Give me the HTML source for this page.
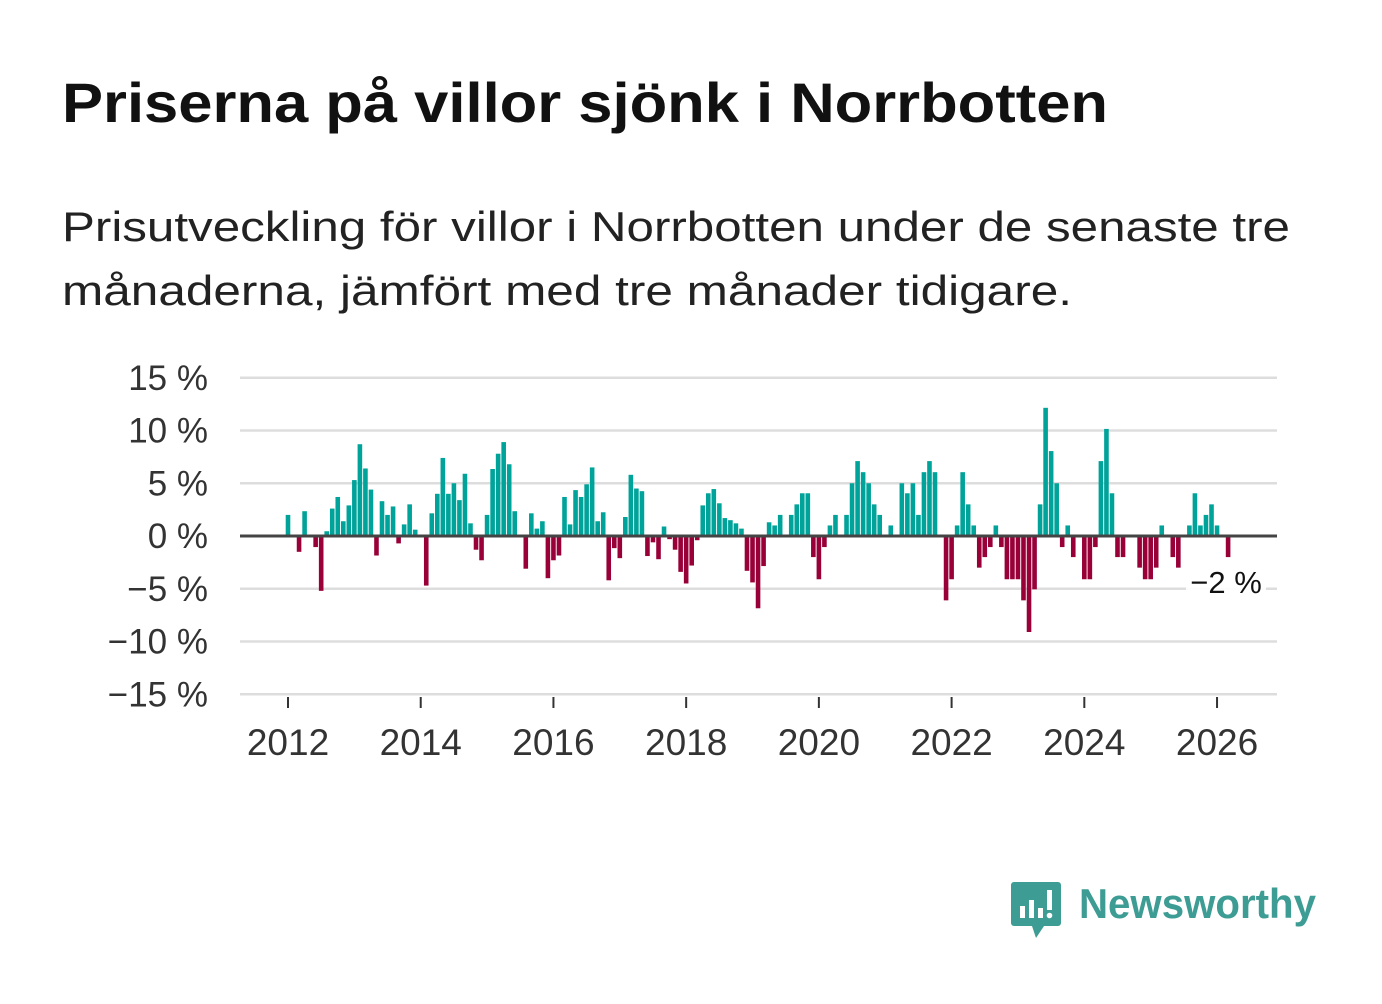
<!DOCTYPE html>
<html><head><meta charset="utf-8"><style>
body{margin:0;background:#fff;width:1382px;height:999px;overflow:hidden;font-family:"Liberation Sans",sans-serif}
</style></head><body>
<svg width="1382" height="999" xmlns="http://www.w3.org/2000/svg">
<text x="62" y="122" font-size="56" font-weight="bold" fill="#111" textLength="1046" lengthAdjust="spacingAndGlyphs">Priserna på villor sjönk i Norrbotten</text>
<text x="62" y="241" font-size="42" fill="#222" textLength="1228" lengthAdjust="spacingAndGlyphs">Prisutveckling för villor i Norrbotten under de senaste tre</text>
<text x="62" y="305" font-size="42" fill="#222" textLength="1010" lengthAdjust="spacingAndGlyphs">månaderna, jämfört med tre månader tidigare.</text>
<g id="grid"></g>
<g id="bars"></g>
<g id="axes"></g>
<g>
<rect x="1186" y="566" width="80" height="32" fill="#fff" opacity="0.9"/>
<text x="1226" y="593" font-size="31" fill="#111" text-anchor="middle">−2 %</text>
</g>
<g>
<path d="M1014 882 h44 a3 3 0 0 1 3 3 v38 a3 3 0 0 1 -3 3 h-14 l-8 12 l-4 -12 h-18 a3 3 0 0 1 -3 -3 v-38 a3 3 0 0 1 3 -3z" fill="#3d9c94"/>
<rect x="1020" y="906" width="5" height="12" fill="#fff"/>
<rect x="1029" y="900" width="5" height="18" fill="#fff"/>
<rect x="1038" y="908" width="5" height="10" fill="#fff"/>
<rect x="1047" y="890" width="5" height="20" fill="#fff"/>
<circle cx="1049.5" cy="915.5" r="2.8" fill="#fff"/>
<text x="1079" y="918" font-size="42" font-weight="bold" fill="#3d9c94" textLength="237" lengthAdjust="spacingAndGlyphs">Newsworthy</text>
</g>
</svg>
<script>
const values=[2.0,0,-1.5,2.35,0,-1.05,-5.2,0.45,2.6,3.7,1.4,2.9,
5.3,8.7,6.4,4.4,-1.85,3.3,2.0,2.8,-0.7,1.1,3.0,0.6,
0,-4.7,2.15,4.0,7.4,4.0,5.0,3.4,5.9,1.2,-1.3,-2.3,
2.0,6.35,7.8,8.9,6.8,2.35,0,-3.1,2.15,0.7,1.4,-4.0,
-2.3,-1.85,3.7,1.1,4.35,3.7,4.9,6.5,1.4,2.25,-4.2,-1.15,
-2.1,1.8,5.8,4.5,4.25,-1.9,-0.6,-2.2,0.9,-0.3,-1.3,-3.4,
-4.5,-2.8,-0.4,2.9,4.05,4.45,3.1,1.7,1.5,1.2,0.7,-3.3,
-4.4,-6.85,-2.85,1.3,1.0,2.0,0,2.0,3.0,4.05,4.05,-2.0,
-4.1,-1.05,1.0,2.0,0,2.0,5.0,7.1,6.05,5.0,3.0,2.0,
0,1.0,0,5.0,4.05,5.0,2.0,6.05,7.1,6.05,0,-6.1,
-4.1,1.0,6.05,3.0,1.0,-3.0,-2.0,-1.05,1.0,-1.05,-4.1,-4.1,
-4.1,-6.1,-9.1,-5.05,3.0,12.15,8.05,5.0,-1.05,1.0,-2.0,0,
-4.1,-4.1,-1.05,7.1,10.15,4.05,-2.0,-2.0,0,0,-3.0,-4.1,
-4.1,-3.0,1.0,0,-2.0,-3.0,0,1.0,4.05,1.0,2.0,3.0,
1.0,0,-2.0];
const startYear=2012;
const yTicks=[15,10,5,0,-5,-10,-15];
const yTickLabels=["15 %","10 %","5 %","0 %","−5 %","−10 %","−15 %"];
const xTickYears=[2012,2014,2016,2018,2020,2022,2024,2026];

const NS="http://www.w3.org/2000/svg";
const y0=536, pxPer=10.55, x0=288, monthW=5.53;
function yScale(v){return y0-v*pxPer;}
function xScale(i){return x0+i*monthW;}
function mk(tag,attrs,parent){const e=document.createElementNS(NS,tag);for(const k in attrs)e.setAttribute(k,attrs[k]);parent.appendChild(e);return e;}
const grid=document.getElementById('grid'),bars=document.getElementById('bars'),axes=document.getElementById('axes');
yTicks.forEach((t,k)=>{
  if(t!==0){const l=mk('line',{x1:240,x2:1277,y1:yScale(t),y2:yScale(t),stroke:'#ddd','stroke-width':2.5},grid);
  
  }
  const tx=mk('text',{x:208,y:yScale(t)+12,'font-size':35,fill:'#333','text-anchor':'end'},axes);
  tx.textContent=yTickLabels[k];
  
  
});
values.forEach((v,i)=>{
  if(v===0)return;
  const y=yScale(v);
  const r=mk('rect',{x:xScale(i)-2.3,y:Math.min(y,y0),width:4.6,height:Math.abs(y-y0),fill:v>0?'#00a39a':'#990038'},bars);
  
  
});
const z=mk('line',{x1:240,x2:1277,y1:y0,y2:y0,stroke:'#444','stroke-width':3},axes);


xTickYears.forEach(yr=>{
  const x=xScale((yr-startYear)*12);
  const t=mk('line',{x1:x,x2:x,y1:697,y2:708,stroke:'#333','stroke-width':2},axes);
  
  
  const tx=mk('text',{x:x,y:755,'font-size':37,fill:'#333','text-anchor':'middle'},axes);
  tx.textContent=yr;
  
  
});
</script>
</body></html>
